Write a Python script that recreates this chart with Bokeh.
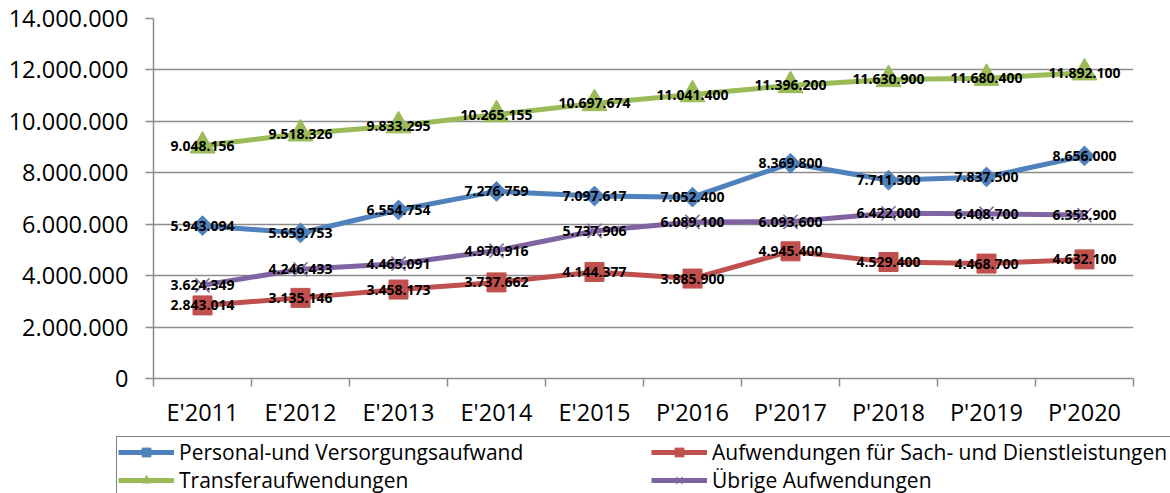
import math
from bokeh.plotting import figure
from bokeh.models import ColumnDataSource, FixedTicker, Legend, LegendItem, Range1d
from bokeh.embed import file_html
from bokeh.resources import INLINE
from bokeh.core.properties import value

categories = ["E'2011", "E'2012", "E'2013", "E'2014", "E'2015",
              "P'2016", "P'2017", "P'2018", "P'2019", "P'2020"]
personal = [5943094, 5659753, 6554754, 7276759, 7097617, 7052400, 8369800, 7711300, 7837500, 8656000]
sach = [2843014, 3135146, 3458173, 3737662, 4144377, 3885900, 4945400, 4529400, 4468700, 4632100]
transfer = [9048156, 9518326, 9833295, 10265155, 10697674, 11041400, 11396200, 11630900, 11680400, 11892100]
uebrige = [3624349, 4246433, 4465091, 4970916, 5737906, 6089100, 6093600, 6422000, 6408700, 6353900]
series_names = ["Personal-und Versorgungsaufwand", "Aufwendungen für Sach- und Dienstleistungen",
                "Transferaufwendungen", "Übrige Aufwendungen"]
y_ticks = [0, 2000000, 4000000, 6000000, 8000000, 10000000, 12000000, 14000000]
y_tick_labels = ["0", "2.000.000", "4.000.000", "6.000.000", "8.000.000",
                 "10.000.000", "12.000.000", "14.000.000"]

FONT = "Open Sans"
GRID = "#8c8c8c"

xs = [i + 0.5 for i in range(len(categories))]

p = figure(width=1170, height=435, x_range=Range1d(0, len(categories)),
           y_range=Range1d(0, y_ticks[-1]),
           output_backend="svg", toolbar_location=None,
           min_border_left=153, min_border_right=37, min_border_top=18, min_border_bottom=57)
p.outline_line_color = None
p.background_fill_color = "white"
p.border_fill_color = "white"
p.xgrid.grid_line_color = None
p.ygrid.ticker = FixedTicker(ticks=y_ticks)
p.ygrid.grid_line_color = GRID
p.ygrid.grid_line_width = 1.5

# x axis
p.xaxis.ticker = FixedTicker(ticks=xs, minor_ticks=list(range(len(categories) + 1)))
p.xaxis.major_label_overrides = {x: c for x, c in zip(xs, categories)}
p.xaxis.axis_line_color = GRID
p.xaxis.axis_line_width = 1.5
p.xaxis.major_tick_line_color = None
p.xaxis.major_tick_out = 8
p.xaxis.major_tick_in = 0
p.xaxis.minor_tick_line_color = GRID
p.xaxis.minor_tick_line_width = 1.5
p.xaxis.minor_tick_out = 8
p.xaxis.minor_tick_in = 0
p.xaxis.major_label_standoff = 9
p.xaxis.major_label_text_font = FONT
p.xaxis.major_label_text_font_size = "23.5px"
p.xaxis.major_label_text_color = "#000000"

# y axis
p.yaxis.ticker = FixedTicker(ticks=y_ticks)
p.yaxis.major_label_overrides = {t: l for t, l in zip(y_ticks, y_tick_labels)}
p.yaxis.axis_line_color = GRID
p.yaxis.axis_line_width = 1.5
p.yaxis.major_tick_line_color = GRID
p.yaxis.major_tick_line_width = 1.5
p.yaxis.major_tick_out = 8
p.yaxis.major_tick_in = 0
p.yaxis.minor_tick_line_color = None
p.yaxis.major_label_standoff = 17
p.yaxis.major_label_text_font = FONT
p.yaxis.major_label_text_font_size = "23.5px"
p.yaxis.major_label_text_color = "#000000"

colors = ["#4F81BD", "#C0504D", "#9BBB59", "#8064A2"]
data = [personal, sach, transfer, uebrige]
markers = [("square", 14, math.pi / 4), ("square", 19, 0), ("triangle", 25, 0), ("x", 20, 0)]

# legend figure (below the chart); its ranges keep the data out of view
lg = figure(width=1170, height=58, x_range=Range1d(100, 101), y_range=Range1d(100, 101),
            output_backend="svg", toolbar_location=None,
            min_border_left=0, min_border_right=0, min_border_top=0, min_border_bottom=0)
lg.axis.visible = False
lg.grid.visible = False
lg.outline_line_color = None
lg.background_fill_color = "white"
lg.border_fill_color = "white"


def draw_series(fig, src, col, mk, sz, ang):
    lr = fig.line("x", "y", source=src, line_color=col, line_width=5, line_join="round")
    if mk == "x":
        sr = fig.scatter("x", "y", source=src, marker=mk, size=sz, line_color=col, line_width=1.5)
    else:
        sr = fig.scatter("x", "y", source=src, marker=mk, size=sz, angle=ang,
                         fill_color=col, line_color=col, line_width=1)
    return lr, sr


items = {}
for name, vals, col, (mk, sz, ang) in zip(series_names, data, colors, markers):
    src = ColumnDataSource(dict(x=xs, y=vals))
    draw_series(p, src, col, mk, sz, ang)
    lr, sr = draw_series(lg, src, col, mk, sz, ang)
    items[name] = LegendItem(label=name, renderers=[lr, sr])

# data labels
lx, ly, lt = [], [], []
for vals in data:
    for x, v in zip(xs, vals):
        lx.append(x)
        ly.append(v)
        lt.append(f"{v:,}".replace(",", "."))
lsrc = ColumnDataSource(dict(x=lx, y=ly, t=lt))
p.text("x", "y", text="t", source=lsrc, text_font=value(FONT), text_font_style="bold",
       text_font_size="14px", text_align="center", text_baseline="middle", text_color="#000000")

# column-major legend: first column = series 1 and 3, second column = series 2 and 4
order = [series_names[0], series_names[2], series_names[1], series_names[3]]
legend = Legend(items=[items[n] for n in order], ncols=2, location=(116, -3), margin=0,
                label_text_font=FONT, label_text_font_size="21px", label_text_color="#000000",
                glyph_width=56, glyph_height=22, label_height=22, label_standoff=5,
                label_width=472, padding=1, spacing=0,
                border_line_color="black", border_line_width=1,
                background_fill_color="white", background_fill_alpha=1.0)
lg.add_layout(legend, "center")

open("out.html", "w").write(file_html([p, lg], INLINE))
